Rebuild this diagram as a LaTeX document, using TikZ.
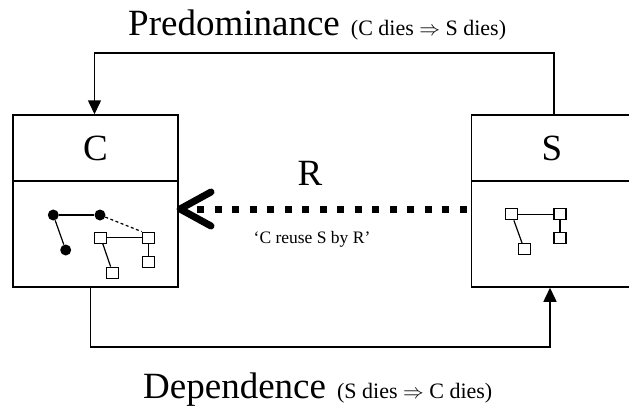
\documentclass[tikz,border=0pt]{standalone}
\usepackage{fontspec}
\setmainfont{Liberation Serif}
\usetikzlibrary{arrows.meta,calc}
\newcommand\myBig{\fontsize{37}{44}\selectfont}
\newcommand\mySmall{\fontsize{22}{26}\selectfont}
\newcommand\myLab{\fontsize{17.5}{20}\selectfont}
\begin{document}
\begin{tikzpicture}[x=1pt,y=-1pt,
  boxpart/.style={draw,line width=1.5pt,inner sep=0pt,font=\myBig},
  conn/.style={line width=1.5pt,-{Triangle[width=13pt,length=14pt]}},
  dot/.style={circle,fill=black,inner sep=0pt,minimum size=11pt},
  sq/.style={draw,fill=white,line width=1.2pt,inner sep=0pt,minimum width=12pt,minimum height=11pt},
  link/.style={line width=1.2pt},
  reuse/.style={line width=7pt,dash pattern=on 7pt off 10.5pt},
  chev/.style={line width=7pt,line cap=round,line join=round}]
\useasboundingbox (0,0) rectangle (629,407);
\clip (0,0) rectangle (629,407);
% boxes
\node[boxpart,minimum width=165pt,minimum height=66pt] (Ctop) at (95.5,148) {C};
\node[boxpart,minimum width=165pt,minimum height=106pt] (Cbot) at (95.5,234) {};
\node[boxpart,minimum width=161pt,minimum height=66pt] (Stop) at (552,148) {S};
\node[boxpart,minimum width=161pt,minimum height=106pt] (Sbot) at (552,234) {};
% titles
\node[anchor=base west,inner sep=0pt] (pred) at (128,35) {\myBig Predominance\hspace{0.3em}\mySmall (C dies $\Rightarrow$ S dies)};
\node[anchor=base west,inner sep=0pt] (dep) at (143,398) {\myBig Dependence\hspace{0.3em}\mySmall (S dies $\Rightarrow$ C dies)};
% connectors
\coordinate (tr) at (554,53);
\coordinate (tl) at (94.5,53);
\draw[conn] (Stop.north -| tr) -- (tr) -- (tl) -- (Ctop.north -| tl);
\coordinate (bl) at (90.5,347);
\coordinate (br) at (550,347);
\draw[conn] (Cbot.south -| bl) -- (bl) -- (br) -- (Sbot.south -| br);
% reuse arrow
\coordinate (rs) at (466.5,209);
\coordinate (tip) at (180,209);
\draw[reuse] (rs) -- ($(tip)+(10,0)$);
\draw[chev] ($(tip)+(31,-17)$) -- (tip) -- ($(tip)+(31,17)$);
\node[font=\myBig,inner sep=0pt] (R) at (310,173) {R};
\node[font=\myLab,inner sep=0pt] (Rlab) at (312,239) {‘C reuse S by R’};
% C internals
\node[dot] (d1) at (53.3,215) {};
\node[dot] (d2) at (100,215) {};
\node[dot] (d3) at (65.7,250) {};
\node[sq] (q1) at (100.7,237.7) {};
\node[sq] (q2) at (148.3,237.7) {};
\node[sq] (q3) at (148.3,261.7) {};
\node[sq] (q4) at (112.7,272.7) {};
\draw[link] (d1) -- (d2);
\draw[link] (d1) -- (d3);
\draw[link,dash pattern=on 3pt off 2.5pt] (d2) -- (q2.north west);
\draw[link] (q1) -- (q2);
\draw[link] (q2) -- (q3);
\draw[link] (q1) -- (q4);
% S internals
\node[sq] (sa) at (511.7,214.3) {};
\node[sq] (sb) at (560,214.3) {};
\node[sq] (sc) at (560,237.7) {};
\node[sq] (sd) at (524.3,249.3) {};
\draw[link] (sa) -- (sb);
\draw[link] (sb) -- (sc);
\draw[link] (sa) -- (sd);
\end{tikzpicture}
\end{document}
